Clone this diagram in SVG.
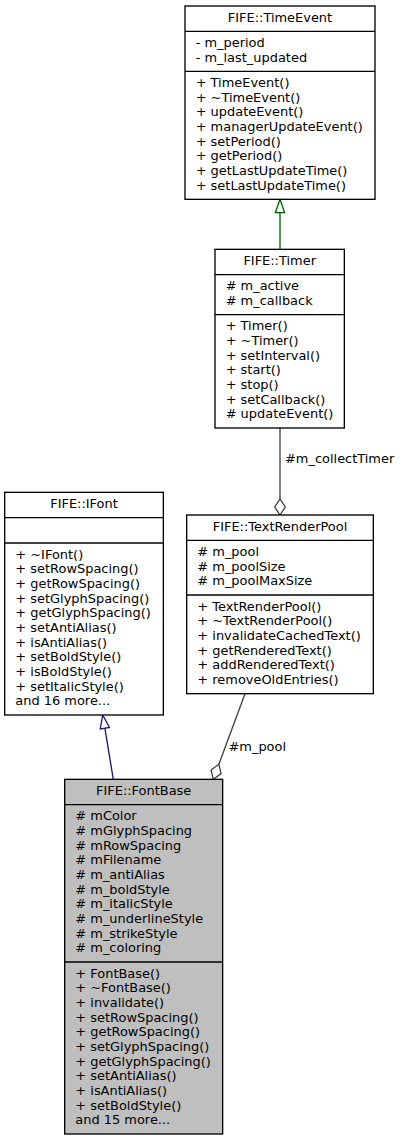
<svg xmlns="http://www.w3.org/2000/svg" width="403" height="1140" viewBox="0 0 403 1140">
<style>
text{font-family:"DejaVu Sans",Verdana,sans-serif;font-size:12.95px;fill:#000}
.c{text-anchor:middle}
.box{fill:#fff;stroke:#000;stroke-width:1.33}
.cur{fill:#bfbfbf;stroke:#000;stroke-width:1.33}
.sep{stroke:#000;stroke-width:1.33;fill:none}
.e{fill:none;stroke-width:1.33}
.green{stroke:#006400}
.blue{stroke:#191970}
.grey{stroke:#404040}
</style>
<g id="connectors">
  <line class="e green" x1="280" y1="249.33" x2="280" y2="212.67"/>
  <polygon class="green" fill="#fff" stroke-width="1.33" points="280,199.33 275.33,212.67 284.67,212.67"/>
  <line class="e grey" x1="280" y1="428" x2="280" y2="499"/>
  <polygon class="grey" fill="#fff" stroke-width="1.33" points="280,515 285.33,507 280,499 274.67,507"/>
  <text x="285" y="463">#m_collectTimer</text>
  <line class="e grey" x1="245" y1="693.67" x2="218.85" y2="764.3"/>
  <polygon class="grey" fill="#fff" stroke-width="1.33" points="213.3,779.3 221.08,773.65 218.85,764.3 211.08,769.95"/>
  <text x="228.5" y="750.5">#m_pool</text>
  <line class="e blue" x1="104.87" y1="728.15" x2="113.3" y2="779.33"/>
  <polygon class="blue" fill="#fff" stroke-width="1.33" points="102.7,715 109.47,727.39 100.27,728.91"/>
</g>
<g id="TimeEvent">
  <rect class="box" x="185" y="6" width="190" height="193.33"/>
  <line class="sep" x1="185" y1="31.33" x2="375" y2="31.33"/>
  <line class="sep" x1="185" y1="71.33" x2="375" y2="71.33"/>
  <text class="c" x="280" y="21.5">FIFE::TimeEvent</text>
  <text x="195.67" y="46.83">- m_period</text>
  <text x="195.67" y="61.5">- m_last_updated</text>
  <text x="195.67" y="86.83">+ TimeEvent()</text>
  <text x="195.67" y="101.5">+ ~TimeEvent()</text>
  <text x="195.67" y="116.17">+ updateEvent()</text>
  <text x="195.67" y="130.83">+ managerUpdateEvent()</text>
  <text x="195.67" y="145.5">+ setPeriod()</text>
  <text x="195.67" y="160.17">+ getPeriod()</text>
  <text x="195.67" y="174.83">+ getLastUpdateTime()</text>
  <text x="195.67" y="189.5">+ setLastUpdateTime()</text>
</g>
<g id="Timer">
  <rect class="box" x="215" y="249.33" width="129.33" height="178.67"/>
  <line class="sep" x1="215" y1="274.67" x2="344.33" y2="274.67"/>
  <line class="sep" x1="215" y1="314.67" x2="344.33" y2="314.67"/>
  <text class="c" x="279.67" y="264.83">FIFE::Timer</text>
  <text x="225.67" y="290.17"># m_active</text>
  <text x="225.67" y="304.83"># m_callback</text>
  <text x="225.67" y="330.17">+ Timer()</text>
  <text x="225.67" y="344.83">+ ~Timer()</text>
  <text x="225.67" y="359.5">+ setInterval()</text>
  <text x="225.67" y="374.17">+ start()</text>
  <text x="225.67" y="388.83">+ stop()</text>
  <text x="225.67" y="403.5">+ setCallback()</text>
  <text x="225.67" y="418.17"># updateEvent()</text>
</g>
<g id="TextRenderPool">
  <rect class="box" x="186.67" y="515" width="186.67" height="178.67"/>
  <line class="sep" x1="186.67" y1="540.33" x2="373.33" y2="540.33"/>
  <line class="sep" x1="186.67" y1="595" x2="373.33" y2="595"/>
  <text class="c" x="280" y="530.5">FIFE::TextRenderPool</text>
  <text x="197.33" y="555.83"># m_pool</text>
  <text x="197.33" y="570.5"># m_poolSize</text>
  <text x="197.33" y="585.17"># m_poolMaxSize</text>
  <text x="197.33" y="610.5">+ TextRenderPool()</text>
  <text x="197.33" y="625.17">+ ~TextRenderPool()</text>
  <text x="197.33" y="639.83">+ invalidateCachedText()</text>
  <text x="197.33" y="654.5">+ getRenderedText()</text>
  <text x="197.33" y="669.17">+ addRenderedText()</text>
  <text x="197.33" y="683.83">+ removeOldEntries()</text>
</g>
<g id="IFont">
  <rect class="box" x="4.67" y="492.33" width="158.67" height="222.67"/>
  <line class="sep" x1="4.67" y1="517.67" x2="163.33" y2="517.67"/>
  <line class="sep" x1="4.67" y1="543" x2="163.33" y2="543"/>
  <text class="c" x="84" y="507.83">FIFE::IFont</text>
  <text x="15.33" y="558.5">+ ~IFont()</text>
  <text x="15.33" y="573.17">+ setRowSpacing()</text>
  <text x="15.33" y="587.83">+ getRowSpacing()</text>
  <text x="15.33" y="602.5">+ setGlyphSpacing()</text>
  <text x="15.33" y="617.17">+ getGlyphSpacing()</text>
  <text x="15.33" y="631.83">+ setAntiAlias()</text>
  <text x="15.33" y="646.5">+ isAntiAlias()</text>
  <text x="15.33" y="661.17">+ setBoldStyle()</text>
  <text x="15.33" y="675.83">+ isBoldStyle()</text>
  <text x="15.33" y="690.5">+ setItalicStyle()</text>
  <text x="15.33" y="705.17">and 16 more...</text>
</g>
<g id="FontBase">
  <rect class="cur" x="64.67" y="779.33" width="158" height="354.67"/>
  <line class="sep" x1="64.67" y1="804.67" x2="222.67" y2="804.67"/>
  <line class="sep" x1="64.67" y1="962" x2="222.67" y2="962"/>
  <text class="c" x="143.67" y="794.83">FIFE::FontBase</text>
  <text x="75.33" y="820.17"># mColor</text>
  <text x="75.33" y="834.83"># mGlyphSpacing</text>
  <text x="75.33" y="849.5"># mRowSpacing</text>
  <text x="75.33" y="864.17"># mFilename</text>
  <text x="75.33" y="878.83"># m_antiAlias</text>
  <text x="75.33" y="893.5"># m_boldStyle</text>
  <text x="75.33" y="908.17"># m_italicStyle</text>
  <text x="75.33" y="922.83"># m_underlineStyle</text>
  <text x="75.33" y="937.5"># m_strikeStyle</text>
  <text x="75.33" y="952.17"># m_coloring</text>
  <text x="75.33" y="977.5">+ FontBase()</text>
  <text x="75.33" y="992.17">+ ~FontBase()</text>
  <text x="75.33" y="1006.83">+ invalidate()</text>
  <text x="75.33" y="1021.5">+ setRowSpacing()</text>
  <text x="75.33" y="1036.17">+ getRowSpacing()</text>
  <text x="75.33" y="1050.83">+ setGlyphSpacing()</text>
  <text x="75.33" y="1065.5">+ getGlyphSpacing()</text>
  <text x="75.33" y="1080.17">+ setAntiAlias()</text>
  <text x="75.33" y="1094.83">+ isAntiAlias()</text>
  <text x="75.33" y="1109.5">+ setBoldStyle()</text>
  <text x="75.33" y="1124.17">and 15 more...</text>
</g>
</svg>
